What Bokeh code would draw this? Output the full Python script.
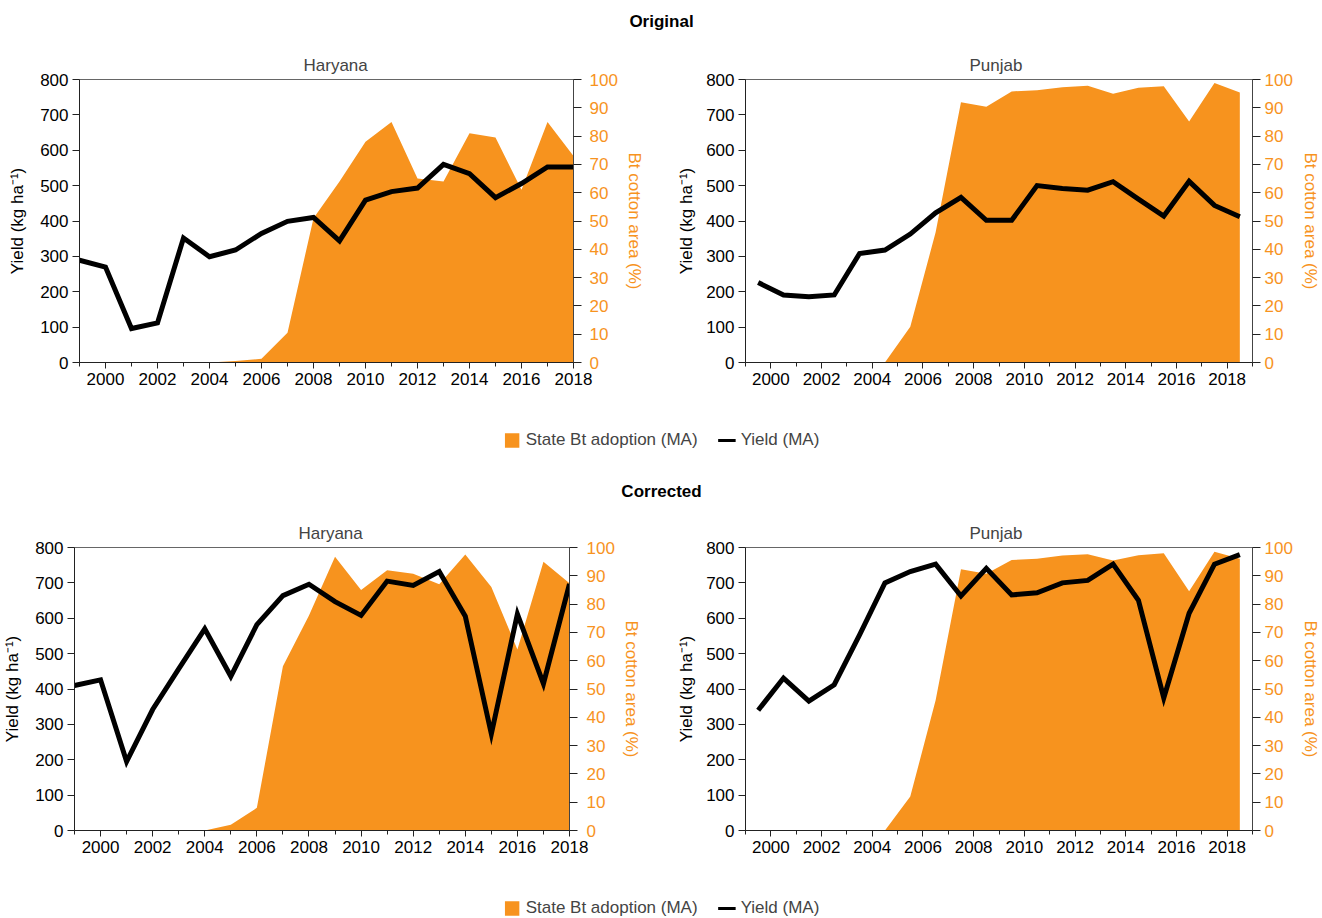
from bokeh.plotting import figure
from bokeh.models import (Range1d, LinearAxis, SingleIntervalTicker, Legend,
                          LegendItem, ColumnDataSource)
from bokeh.layouts import column, row
from bokeh.core.properties import value
from bokeh.embed import file_html
from bokeh.resources import INLINE

# ---------------- data ----------------
years_haryana = [1999, 2000, 2001, 2002, 2003, 2004, 2005, 2006, 2007, 2008,
                 2009, 2010, 2011, 2012, 2013, 2014, 2015, 2016, 2017, 2018]
years_punjab = [1999.5, 2000.5, 2001.5, 2002.5, 2003.5, 2004.5, 2005.5, 2006.5,
                2007.5, 2008.5, 2009.5, 2010.5, 2011.5, 2012.5, 2013.5, 2014.5,
                2015.5, 2016.5, 2017.5, 2018.5]

orig_haryana_yield = [289, 270, 96, 112, 352, 299, 318, 365, 399, 410,
                      344, 459, 483, 493, 560, 534, 466, 506, 553, 553]
orig_haryana_bt = [0, 0, 0, 0, 0, 0, 0.5, 1.3, 10.5, 51,
                   64, 78, 85, 65, 64, 81, 79.5, 61, 85, 73]

orig_punjab_yield = [226, 191, 186, 191, 308, 318, 363, 423, 467, 402,
                     402, 500, 492, 487, 511, 462, 414, 512, 444, 412]
orig_punjab_bt = [0, 0, 0, 0, 0, 0, 12.6, 46, 92, 90.4,
                  95.8, 96.2, 97.3, 97.8, 95, 97.1, 97.6, 85.2, 98.8, 95.4]

corr_haryana_yield = [410, 426, 195, 342, 457, 570, 436, 582, 664, 696,
                      647, 608, 705, 693, 732, 606, 273, 612, 415, 697]
corr_haryana_bt = [0, 0, 0, 0, 0, 0, 2, 8, 58, 76,
                   96.7, 85, 92, 90.7, 87, 97.5, 86, 64, 95, 87.4]

corr_punjab_yield = [340, 431, 366, 412, 553, 700, 732, 753, 663, 741,
                     666, 672, 700, 707, 753, 651, 375, 614, 753, 780]
corr_punjab_bt = [0, 0, 0, 0, 0, 0, 12, 46, 92.3, 90.7,
                  95.6, 96, 97.2, 97.6, 95.4, 97.3, 98, 84.5, 98.5, 96]

section_titles = ["Original", "Corrected"]
state_titles = ["Haryana", "Punjab"]
legend_labels = ["State Bt adoption (MA)", "Yield (MA)"]
left_label = "Yield (kg ha\u207b\u00b9)"
right_label = "Bt cotton area (%)"

# ---------------- style ----------------
FONT = "Liberation Sans"
ORANGE = "#F7931E"
TOTAL_W = 1322
FS = "17px"


def style_axis(ax, label_color="black", line_color="#222222"):
    ax.axis_label_text_font = FONT
    ax.axis_label_text_font_size = FS
    ax.axis_label_text_font_style = "normal"
    ax.axis_label_text_color = label_color
    ax.major_label_text_font = FONT
    ax.major_label_text_font_size = FS
    ax.major_label_text_color = label_color
    ax.axis_line_color = line_color
    ax.major_tick_line_color = "#222222"
    ax.minor_tick_line_color = "#222222"
    ax.major_tick_in = 0
    ax.minor_tick_in = 0


def panel(title, xs, yld, bt, x_end, width, height, bl, br, btop, bbot,
          ylab_standoff, rlab_standoff, rtick_standoff):
    src = ColumnDataSource(dict(year=xs, yld=yld, bt=bt))
    p = figure(width=width, height=height, x_range=Range1d(1999, x_end),
               y_range=Range1d(0, 800), output_backend="svg",
               toolbar_location=None, min_border_left=bl, min_border_right=br,
               min_border_top=btop, min_border_bottom=bbot, title=title)
    p.extra_y_ranges = {"bt": Range1d(0, 100)}
    p.varea(x="year", y1=0, y2="bt", source=src, y_range_name="bt",
            fill_color=ORANGE)
    p.line(x="year", y="yld", source=src, line_width=5, line_color="black",
           line_join="miter")

    p.xgrid.visible = False
    p.ygrid.visible = False
    p.outline_line_color = "#666666"
    p.outline_line_width = 1
    p.background_fill_color = "white"
    p.border_fill_color = "white"

    p.title.text_font = FONT
    p.title.text_font_size = FS
    p.title.text_font_style = "normal"
    p.title.align = "left"
    p.title.offset = 224
    p.title.standoff = 9

    xa = p.xaxis[0]
    xa.ticker = SingleIntervalTicker(interval=2, num_minor_ticks=2)
    style_axis(xa)
    xa.major_tick_out = 6
    xa.minor_tick_out = 4
    xa.major_label_standoff = 4

    ya = p.yaxis[0]
    ya.ticker = SingleIntervalTicker(interval=100, num_minor_ticks=0)
    style_axis(ya)
    ya.axis_label = left_label
    ya.major_tick_out = 7
    ya.major_label_standoff = 4
    ya.axis_label_standoff = ylab_standoff

    ra = LinearAxis(y_range_name="bt",
                    ticker=SingleIntervalTicker(interval=10, num_minor_ticks=0))
    style_axis(ra, label_color=ORANGE, line_color="#444444")
    ra.axis_label = right_label
    ra.major_tick_out = 8
    ra.major_label_standoff = rtick_standoff
    ra.axis_label_standoff = rlab_standoff
    p.add_layout(ra, "right")
    return p


def header(text, height, center_from_top):
    p = figure(width=TOTAL_W, height=height, x_range=Range1d(0, 1),
               y_range=Range1d(0, height), x_axis_location=None,
               y_axis_location=None, output_backend="svg",
               toolbar_location=None, min_border=0, outline_line_color=None)
    p.grid.visible = False
    p.text(x=[0.5], y=[height - center_from_top], text=[text],
           text_align="center", text_baseline="middle",
           text_font=value(FONT), text_font_style="bold",
           text_font_size=FS, text_color="black")
    return p


def legend_fig(height, btop, bbot):
    p = figure(width=TOTAL_W, height=height, x_range=Range1d(0, 1),
               y_range=Range1d(0, 1), x_axis_location=None,
               y_axis_location=None, output_backend="svg",
               toolbar_location=None, min_border=0, min_border_top=btop,
               min_border_bottom=bbot, outline_line_color=None)
    p.grid.visible = False
    # legend-only renderers, kept outside the visible range
    r1 = p.varea(x=[-3, -2], y1=[0, 0], y2=[1, 1], fill_color=ORANGE)
    r2 = p.line(x=[-3, -2], y=[0, 0], line_color="black", line_width=3)
    leg = Legend(items=[LegendItem(label=legend_labels[0], renderers=[r1]),
                        LegendItem(label=legend_labels[1], renderers=[r2])],
                 orientation="horizontal", location="center")
    leg.label_text_font = FONT
    leg.label_text_font_size = FS
    leg.glyph_width = 18
    leg.glyph_height = 18
    leg.label_standoff = 5
    leg.spacing = 20
    leg.padding = 0
    leg.margin = 0
    leg.border_line_color = None
    leg.background_fill_alpha = 0
    p.add_layout(leg, "center")
    return p


h1 = header(section_titles[0], 42, 21)
p1 = panel(state_titles[0], years_haryana, orig_haryana_yield, orig_haryana_bt,
           2018, 660, 358, 79, 87, 37, 38, 10, 4, 8)
p2 = panel(state_titles[1], years_punjab, orig_punjab_yield, orig_punjab_bt,
           2019, 662, 358, 85, 70, 32, 38, 7, 5, 4)
l1 = legend_fig(66, 22, 8)
h2 = header(section_titles[1], 44, 25)
p3 = panel(state_titles[0], years_haryana, corr_haryana_yield, corr_haryana_bt,
           2018, 660, 360, 74, 91, 37, 40, 10, 4, 9)
p4 = panel(state_titles[1], years_punjab, corr_punjab_yield, corr_punjab_bt,
           2019, 662, 360, 85, 70, 32, 40, 7, 5, 4)
l2 = legend_fig(48, 28, 0)

layout = column(h1, row(p1, p2), l1, h2, row(p3, p4), l2)

open("out.html", "w").write(file_html(layout, INLINE))
